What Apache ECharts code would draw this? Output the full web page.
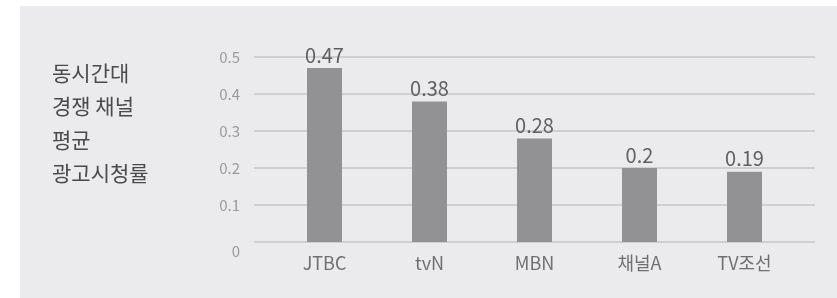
<!DOCTYPE html>
<html>
<head>
<meta charset="utf-8">
<script src="https://cdn.jsdelivr.net/npm/echarts@6/dist/echarts.min.js"></script>
<style>
  html, body { margin: 0; padding: 0; background: #fff; }
  #chart { width: 837px; height: 298px; }
</style>
</head>
<body>
<div id="chart"></div>
<script>
// data
const channels = ['JTBC', 'tvN', 'MBN', '채널A', 'TV조선'];
const ratings = [0.47, 0.38, 0.28, 0.2, 0.19];
const titleLines = ['동시간대', '경쟁 채널', '평균', '광고시청률'];

const font = "'Noto Sans CJK KR', sans-serif";

const chart = echarts.init(document.getElementById('chart'));

chart.setOption({
    animation: false,
    backgroundColor: '#fff',
    graphic: [
        {
            type: 'rect', z: -10, silent: true,
            shape: { x: 20, y: 6, width: 817, height: 292 },
            style: { fill: '#ebebed' }
        },
        {
            type: 'text', left: 52, top: 56,
            style: {
                text: titleLines.join('\n'),
                font: '21px ' + font,
                lineHeight: 33.5,
                fill: '#4a4a4c'
            }
        }
    ],
    grid: [
        // grid lines and y labels
        { left: 254, right: 22, top: 57, bottom: 56 },
        // bars
        { left: 272, right: 40, top: 57, bottom: 56 }
    ],
    xAxis: [
        { type: 'value', gridIndex: 0, show: false, min: 0, max: 1 },
        {
            type: 'category', gridIndex: 1, data: channels,
            axisLine: { show: false }, axisTick: { show: false },
            axisLabel: { color: '#6f6f71', fontSize: 18, fontFamily: font, margin: 12 }
        }
    ],
    yAxis: [
        {
            type: 'value', gridIndex: 0, min: 0, max: 0.5, interval: 0.1,
            axisLine: { show: false }, axisTick: { show: false },
            splitLine: { lineStyle: { color: '#cfcfd1', width: 2 } },
            axisLabel: {
                color: '#9a9a9c', fontSize: 15, fontFamily: font, margin: 14,
                formatter: function (v) { return v === 0 ? '{z|0}' : String(+v.toFixed(1)); },
                rich: { z: { fontSize: 15, fontFamily: font, color: '#9a9a9c', padding: [18, 0, 0, 0] } }
            }
        },
        {
            type: 'value', gridIndex: 1, min: 0, max: 0.5, interval: 0.1, show: false
        }
    ],
    series: [{
        type: 'bar',
        xAxisIndex: 1, yAxisIndex: 1,
        data: ratings,
        barWidth: 35,
        itemStyle: { color: '#929295' },
        label: {
            show: true, position: 'top', distance: 3,
            color: '#5f5f61', fontSize: 20, fontFamily: font
        }
    }]
});
</script>
</body>
</html>
